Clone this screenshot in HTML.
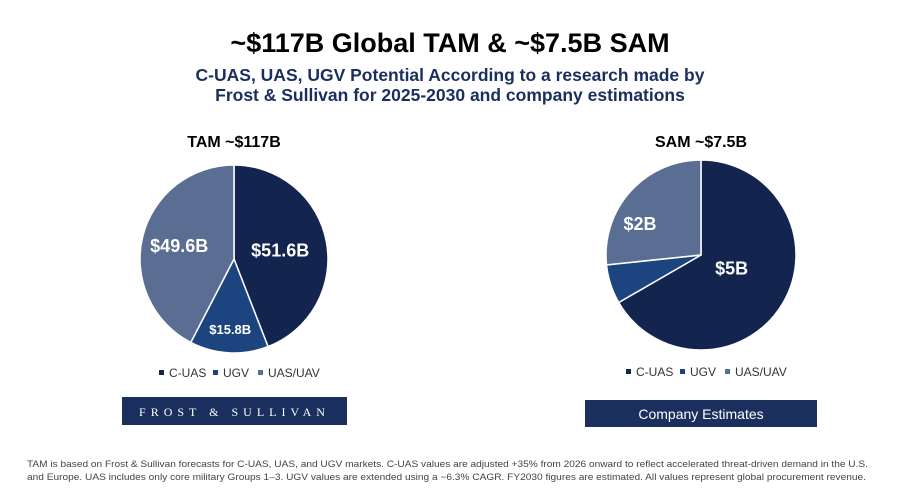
<!DOCTYPE html>
<html><head><meta charset="utf-8"><style>
body{margin:0;background:#fff;width:900px;height:489px;overflow:hidden;font-family:"Liberation Sans",sans-serif;}
</style></head><body>
<svg width="900" height="489" viewBox="0 0 900 489" xmlns="http://www.w3.org/2000/svg">
<text x="450" y="52" text-anchor="middle" font-size="27" font-weight="bold" fill="#000">~$117B Global TAM &amp; ~$7.5B SAM</text>
<text x="450" y="81" text-anchor="middle" font-size="17.5" font-weight="bold" fill="#1b2f5e">C-UAS, UAS, UGV Potential According to a research made by</text>
<text x="450" y="101" text-anchor="middle" font-size="17.5" font-weight="bold" fill="#1b2f5e">Frost &amp; Sullivan for 2025-2030 and company estimations</text>
<text x="234" y="147" text-anchor="middle" font-size="16" font-weight="bold" fill="#000">TAM ~$117B</text>
<text x="701" y="147" text-anchor="middle" font-size="16" font-weight="bold" fill="#000">SAM ~$7.5B</text>
<g id="tam"></g><g id="sam"></g>
<g font-size="12" fill="#333">
<rect x="159" y="370" width="5" height="5" fill="#13254f"/><text x="169" y="377">C-UAS</text>
<rect x="213" y="370" width="5" height="5" fill="#1c4580"/><text x="223" y="377">UGV</text>
<rect x="258" y="370" width="5" height="5" fill="#5a6e93"/><text x="268" y="377">UAS/UAV</text>
</g>
<g font-size="12" fill="#333">
<rect x="626" y="369" width="5" height="5" fill="#13254f"/><text x="636" y="376">C-UAS</text>
<rect x="680" y="369" width="5" height="5" fill="#1c4580"/><text x="690" y="376">UGV</text>
<rect x="725" y="369" width="5" height="5" fill="#5a6e93"/><text x="735" y="376">UAS/UAV</text>
</g>
<g>
<rect x="122" y="397" width="225" height="28" fill="#1b2f5e"/>
<text x="234.5" y="416" text-anchor="middle" font-family="Liberation Serif,serif" font-size="12" fill="#fff" letter-spacing="5">FROST &amp; SULLIVAN</text>
</g>
<g>
<rect x="585" y="400" width="232" height="27" fill="#1b2f5e"/>
<text x="701" y="419" text-anchor="middle" font-size="14" fill="#fff">Company Estimates</text>
</g>
<text x="27" y="467" font-size="9.5" fill="#444" textLength="841" lengthAdjust="spacingAndGlyphs">TAM is based on Frost &amp; Sullivan forecasts for C-UAS, UAS, and UGV markets. C-UAS values are adjusted +35% from 2026 onward to reflect accelerated threat-driven demand in the U.S.</text>
<text x="27" y="480" font-size="9.5" fill="#444" textLength="839" lengthAdjust="spacingAndGlyphs">and Europe. UAS includes only core military Groups 1–3. UGV values are extended using a ~6.3% CAGR. FY2030 figures are estimated. All values represent global procurement revenue.</text>
</svg>
<script>
const categories=["C-UAS","UGV","UAS/UAV"];
const tamValues=[51.6,15.8,49.6];
const tamLabels=["$51.6B","$15.8B","$49.6B"];
const samValues=[5,0.5,2];
const samLabels=["$5B","","$2B"];
const colors=["#13254f","#1c4580","#5a6e93"];
const NS="http://www.w3.org/2000/svg";
function pie(gid,vals,labels,cx,cy,r,fs,lr,ao){
  const g=document.getElementById(gid);
  const tot=vals.reduce((a,b)=>a+b,0);
  let a0=0;
  vals.forEach((v,i)=>{
    const a1=a0+v/tot*2*Math.PI;
    const p=a=>[cx+r*Math.sin(a),cy-r*Math.cos(a)];
    const [x0,y0]=p(a0),[x1,y1]=p(a1);
    const path=document.createElementNS(NS,"path");
    path.setAttribute("d",`M${cx},${cy}L${x0},${y0}A${r},${r} 0 ${a1-a0>Math.PI?1:0} 1 ${x1},${y1}Z`);
    path.setAttribute("fill",colors[i]);path.setAttribute("stroke","#fff");path.setAttribute("stroke-width","1.5");
    
    
    g.appendChild(path);
    if(labels[i]){
      const m=(a0+a1)/2+ao[i]*Math.PI/180, rr=r*lr[i];
      const t=document.createElementNS(NS,"text");
      t.setAttribute("x",cx+rr*Math.sin(m));t.setAttribute("y",cy-rr*Math.cos(m)+fs[i]*0.35);
      t.setAttribute("text-anchor","middle");t.setAttribute("fill","#fff");t.setAttribute("font-weight","bold");t.setAttribute("font-size",fs[i]);
      t.textContent=labels[i];
      
      
      g.appendChild(t);
    }
    a0=a1;
  });
}
pie("tam",tamValues,tamLabels,234,259,94,[18,13,18],[0.5,0.75,0.6],[0,0,0]);
pie("sam",samValues,samLabels,701,255,95,[18,18,18],[0.35,0.7,0.72],[-7,0,-15]);
</script>
</body></html>
